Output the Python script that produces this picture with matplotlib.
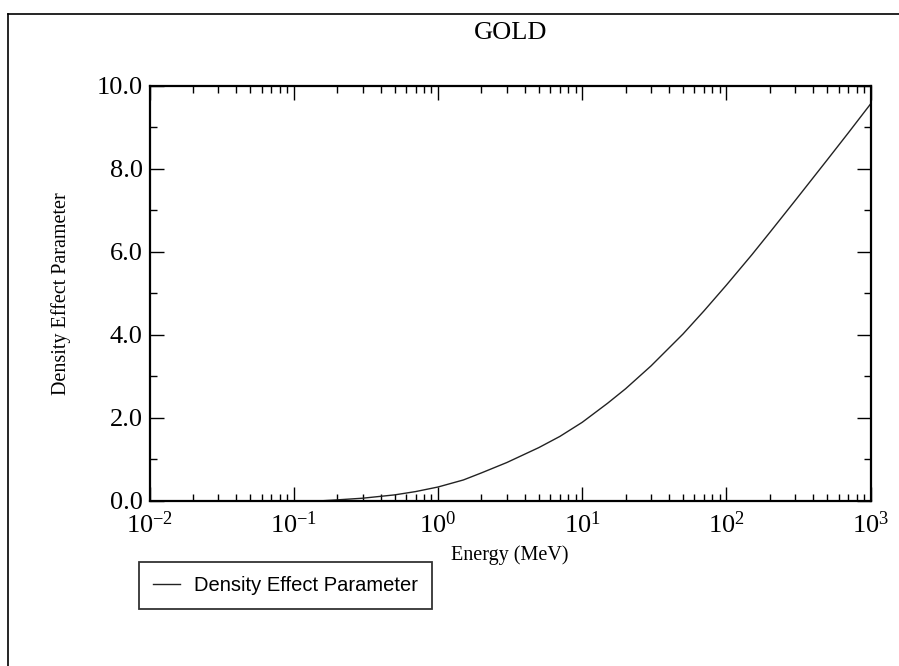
import matplotlib
matplotlib.use("Agg")
import matplotlib.pyplot as plt
from matplotlib.lines import Line2D
from matplotlib.ticker import LogLocator, MultipleLocator, FormatStrFormatter, NullFormatter

# Density effect parameter for gold
energy_mev = [0.16, 0.2, 0.3, 0.5, 0.7, 1, 1.5, 2, 3, 5, 7, 10, 15, 20, 30,
              50, 70, 100, 150, 200, 300, 500, 700, 1000]
delta = [0.0, 0.02, 0.06, 0.14, 0.22, 0.33, 0.50, 0.67, 0.92, 1.28, 1.55, 1.89,
         2.35, 2.70, 3.25, 4.02, 4.58, 5.20, 5.93, 6.47, 7.24, 8.22, 8.87, 9.57]

title = "GOLD"
xlabel = "Energy (MeV)"
ylabel = "Density Effect Parameter"
series_name = "Density Effect Parameter"

plt.rcParams['font.family'] = ['Liberation Serif', 'DejaVu Serif']
plt.rcParams['mathtext.fontset'] = 'custom'
plt.rcParams['mathtext.rm'] = 'Liberation Serif'
plt.rcParams['mathtext.it'] = 'Liberation Serif:italic'
plt.rcParams['axes.unicode_minus'] = False

fig = plt.figure(figsize=(8.99, 6.66), dpi=100)
ax = fig.add_axes([0.1663, 0.2482, 0.8022, 0.6227])

ax.plot(energy_mev, delta, color='#222222', lw=1.0, label=series_name)

ax.set_xscale('log')
ax.set_xlim(1e-2, 1e3)
ax.set_ylim(0, 10)

ax.xaxis.set_major_locator(LogLocator(base=10, numticks=10))
ax.xaxis.set_minor_locator(LogLocator(base=10, subs=range(2, 10), numticks=10))
ax.xaxis.set_minor_formatter(NullFormatter())
ax.yaxis.set_major_locator(MultipleLocator(2))
ax.yaxis.set_minor_locator(MultipleLocator(1))
ax.yaxis.set_major_formatter(FormatStrFormatter('%.1f'))

ax.tick_params(which='both', direction='in', top=True, right=True, width=1.0)
ax.tick_params(which='major', length=10, labelsize=19)
ax.tick_params(which='minor', length=5)
ax.tick_params(axis='x', pad=8)
ax.tick_params(axis='y', pad=5)
for sp in ax.spines.values():
    sp.set_linewidth(1.6)

ax.set_title(title, fontsize=19, pad=34)
ax.set_xlabel(xlabel, fontsize=14.5)
ax.set_ylabel(ylabel, fontsize=14.5)
ax.xaxis.set_label_coords(0.5, -0.108)
ax.yaxis.set_label_coords(-0.109, 0.5)

leg = ax.legend(loc='upper left', bbox_to_anchor=(139 / 899, 1 - 562 / 666),
                bbox_transform=fig.transFigure, frameon=True, fancybox=False,
                prop={'family': 'Liberation Sans', 'size': 14.5},
                handlelength=1.35, handletextpad=0.7, borderpad=0.7,
                borderaxespad=0)
leg.get_frame().set_edgecolor('black')
leg.get_frame().set_linewidth(1.3)

# page frame lines at top and left
fig.add_artist(Line2D([7.5 / 899, 1], [1 - 14 / 666, 1 - 14 / 666],
                      transform=fig.transFigure, color='black', lw=1.2))
fig.add_artist(Line2D([7.5 / 899, 7.5 / 899], [0, 1 - 14 / 666],
                      transform=fig.transFigure, color='black', lw=1.2))

fig.savefig('out.png', dpi=100)
